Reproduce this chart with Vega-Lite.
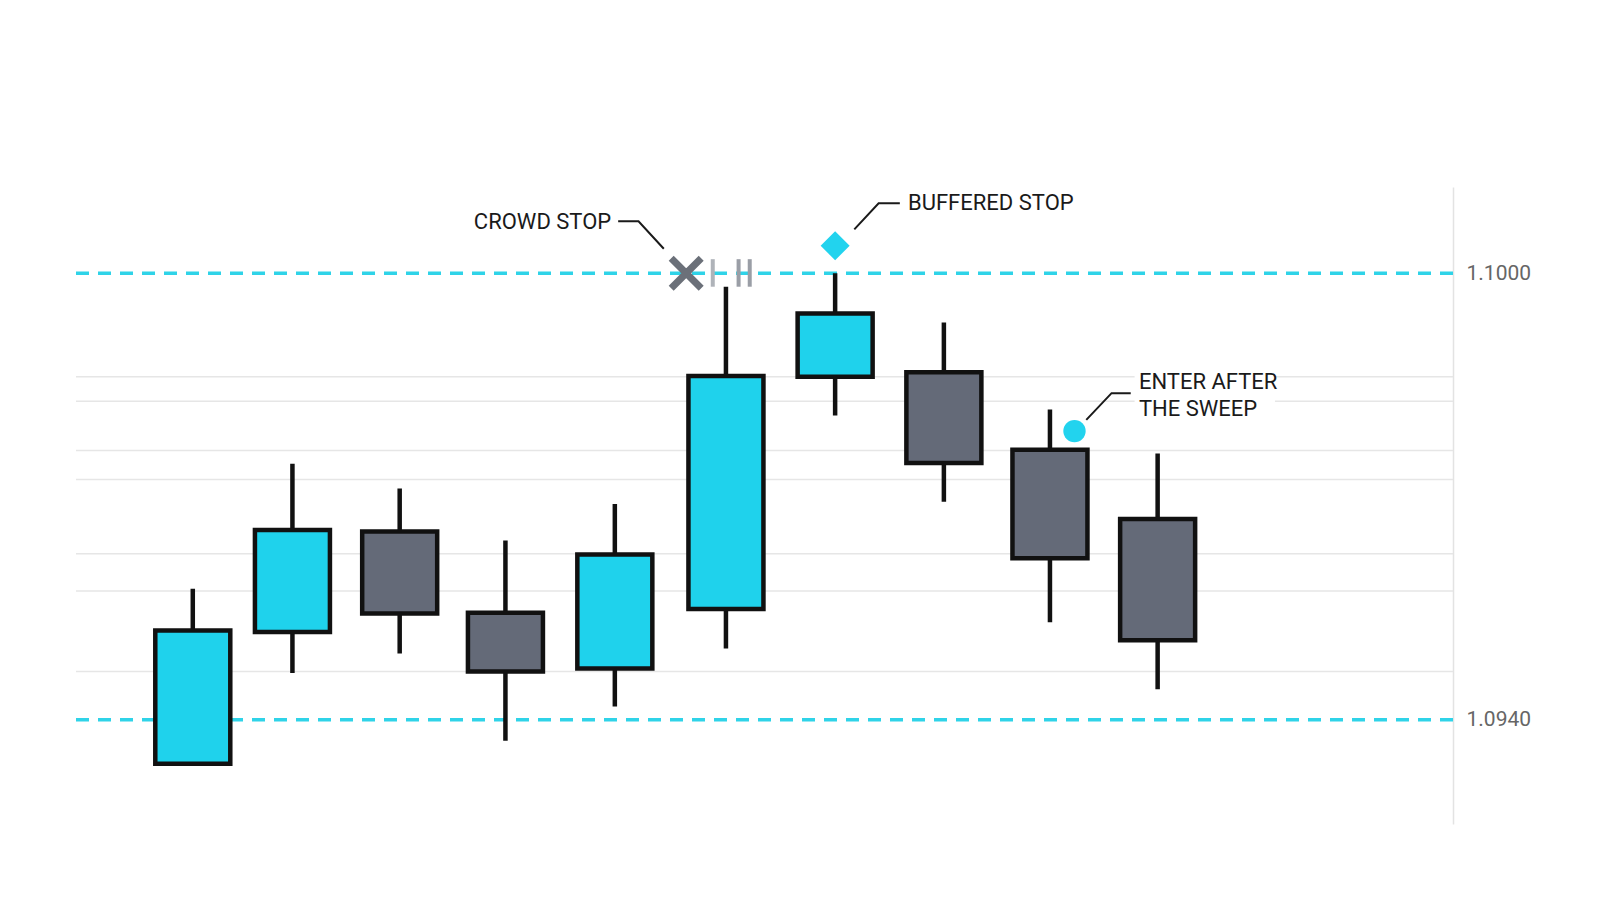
{
  "$schema": "https://vega.github.io/schema/vega-lite/v6.json",
  "width": 1377,
  "height": 637,
  "autosize": "none",
  "padding": {"left": 76, "top": 187, "right": 147, "bottom": 76},
  "background": "white",
  "config": {
    "view": {"stroke": null},
    "text": {"font": "Roboto"},
    "axis": {"labelFont": "Roboto"}
  },
  "datasets": {
    "candles": [
      {"x": 1.000, "o": 1.09341, "c": 1.09520, "h": 1.09576, "l": 1.09341, "dir": "up"},
      {"x": 1.930, "o": 1.09518, "c": 1.09655, "h": 1.09744, "l": 1.09463, "dir": "up"},
      {"x": 2.931, "o": 1.09653, "c": 1.09543, "h": 1.09711, "l": 1.09489, "dir": "down"},
      {"x": 3.918, "o": 1.09544, "c": 1.09465, "h": 1.09641, "l": 1.09372, "dir": "down"},
      {"x": 4.939, "o": 1.09469, "c": 1.09622, "h": 1.09690, "l": 1.09418, "dir": "up"},
      {"x": 5.976, "o": 1.09549, "c": 1.09862, "h": 1.09982, "l": 1.09496, "dir": "up"},
      {"x": 6.995, "o": 1.09861, "c": 1.09946, "h": 1.10000, "l": 1.09809, "dir": "up"},
      {"x": 8.010, "o": 1.09867, "c": 1.09745, "h": 1.09934, "l": 1.09693, "dir": "down"},
      {"x": 9.000, "o": 1.09763, "c": 1.09617, "h": 1.09817, "l": 1.09531, "dir": "down"},
      {"x": 10.005, "o": 1.09670, "c": 1.09507, "h": 1.09758, "l": 1.09441, "dir": "down"}
    ],
    "grid": [
      {"p": 1.09861}, {"p": 1.09828}, {"p": 1.09762}, {"p": 1.09723},
      {"p": 1.09623}, {"p": 1.09573}, {"p": 1.09465}
    ],
    "levels": [{"p": 1.1000}, {"p": 1.0940}],
    "ticks": [
      {"x": 5.853, "p1": 1.09982, "p2": 1.10019, "shade": "light"},
      {"x": 6.094, "p1": 1.09982, "p2": 1.10019, "shade": "dark"},
      {"x": 6.198, "p1": 1.09982, "p2": 1.10019, "shade": "dark"}
    ],
    "leaders": [
      {"g": "crowd", "k": 1, "x": 4.970, "p": 1.10070},
      {"g": "crowd", "k": 2, "x": 5.160, "p": 1.10070},
      {"g": "crowd", "k": 3, "x": 5.396, "p": 1.10033},
      {"g": "buffer", "k": 1, "x": 7.174, "p": 1.10059},
      {"g": "buffer", "k": 2, "x": 7.401, "p": 1.10094},
      {"g": "buffer", "k": 3, "x": 7.599, "p": 1.10094},
      {"g": "enter", "k": 1, "x": 9.339, "p": 1.09803},
      {"g": "enter", "k": 2, "x": 9.575, "p": 1.09839},
      {"g": "enter", "k": 3, "x": 9.754, "p": 1.09839}
    ],
    "labelsLeft": [
      {"x": 7.675, "p": 1.10094, "t": "BUFFERED STOP"},
      {"x": 9.830, "p": 1.09854, "t": "ENTER AFTER"},
      {"x": 9.830, "p": 1.09818, "t": "THE SWEEP"}
    ],
    "labelsRight": [
      {"x": 4.905, "p": 1.10069, "t": "CROWD STOP"}
    ]
  },
  "layer": [
    {
      "data": {"name": "grid"},
      "mark": {"type": "rule", "color": "#e6e6e6", "strokeWidth": 1.5},
      "encoding": {
        "y": {"field": "p", "type": "quantitative", "title": null, "scale": {"domain": [1.0926, 1.10116], "nice": false, "zero": false},
          "axis": {"orient": "right", "values": [1.094, 1.1], "format": ".4f", "title": null, "ticks": false, "grid": false,
            "labelFontSize": 21, "labelColor": "#666666", "labelPadding": 13, "domainColor": "#e3e3e3", "domainWidth": 1.5}}
      }
    },
    {
      "data": {"values": [{"x1": 9.79, "x2": 11.1, "p1": 1.09809, "p2": 1.09872}]},
      "mark": {"type": "rect", "fill": "white"},
      "encoding": {
        "x": {"field": "x1", "type": "quantitative", "scale": {"domain": [-0.0433, 12.715], "nice": false, "zero": false}, "axis": null},
        "x2": {"field": "x2"},
        "y": {"field": "p1", "type": "quantitative", "title": null, "scale": {"domain": [1.0926, 1.10116], "nice": false, "zero": false}},
        "y2": {"field": "p2"}
      }
    },
    {
      "data": {"name": "levels"},
      "mark": {"type": "rule", "color": "#2fd3e8", "strokeWidth": 3.5, "strokeDash": [13, 9]},
      "encoding": {
        "y": {"field": "p", "type": "quantitative", "title": null, "scale": {"domain": [1.0926, 1.10116], "nice": false, "zero": false}}
      }
    },
    {
      "data": {"name": "candles"},
      "mark": {"type": "rule", "color": "#111111", "strokeWidth": 4.5},
      "encoding": {
        "x": {"field": "x", "type": "quantitative", "scale": {"domain": [-0.0433, 12.715], "nice": false, "zero": false}, "axis": null},
        "y": {"field": "l", "type": "quantitative", "title": null, "scale": {"domain": [1.0926, 1.10116], "nice": false, "zero": false}},
        "y2": {"field": "h"}
      }
    },
    {
      "data": {"name": "candles"},
      "mark": {"type": "bar", "width": 75, "stroke": "#111111", "strokeWidth": 4.5},
      "encoding": {
        "x": {"field": "x", "type": "quantitative", "scale": {"domain": [-0.0433, 12.715], "nice": false, "zero": false}, "axis": null},
        "y": {"field": "o", "type": "quantitative", "title": null, "scale": {"domain": [1.0926, 1.10116], "nice": false, "zero": false}},
        "y2": {"field": "c"},
        "fill": {"field": "dir", "type": "nominal", "scale": {"domain": ["up", "down"], "range": ["#1fd2ec", "#646a78"]}, "legend": null}
      }
    },
    {
      "data": {"name": "ticks"},
      "mark": {"type": "rule", "strokeWidth": 4},
      "encoding": {
        "x": {"field": "x", "type": "quantitative", "scale": {"domain": [-0.0433, 12.715], "nice": false, "zero": false}, "axis": null},
        "y": {"field": "p1", "type": "quantitative", "title": null, "scale": {"domain": [1.0926, 1.10116], "nice": false, "zero": false}},
        "y2": {"field": "p2"},
        "color": {"field": "shade", "type": "nominal", "scale": {"domain": ["light", "dark"], "range": ["#afb3b9", "#9a9ea6"]}, "legend": null}
      }
    },
    {
      "data": {"values": [{"x": 5.605, "p": 1.1000}]},
      "mark": {"type": "point", "shape": "M-1,-1L1,1M1,-1L-1,1", "size": 900, "filled": false, "stroke": "#6b7079", "strokeWidth": 7, "opacity": 1},
      "encoding": {
        "x": {"field": "x", "type": "quantitative", "scale": {"domain": [-0.0433, 12.715], "nice": false, "zero": false}, "axis": null},
        "y": {"field": "p", "type": "quantitative", "title": null, "scale": {"domain": [1.0926, 1.10116], "nice": false, "zero": false}}
      }
    },
    {
      "data": {"values": [{"x": 6.995, "p": 1.10037, "s": "diamond"}, {"x": 9.229, "p": 1.09788, "s": "circle"}]},
      "mark": {"type": "point", "filled": true, "fill": "#22d3ee", "opacity": 1},
      "encoding": {
        "x": {"field": "x", "type": "quantitative", "scale": {"domain": [-0.0433, 12.715], "nice": false, "zero": false}, "axis": null},
        "y": {"field": "p", "type": "quantitative", "title": null, "scale": {"domain": [1.0926, 1.10116], "nice": false, "zero": false}},
        "shape": {"field": "s", "type": "nominal", "scale": {"domain": ["diamond", "circle"], "range": ["diamond", "circle"]}, "legend": null},
        "size": {"field": "s", "type": "nominal", "scale": {"domain": ["diamond", "circle"], "range": [840, 500]}, "legend": null}
      }
    },
    {
      "data": {"name": "leaders"},
      "mark": {"type": "line", "color": "#1a1a1a", "strokeWidth": 2},
      "encoding": {
        "x": {"field": "x", "type": "quantitative", "scale": {"domain": [-0.0433, 12.715], "nice": false, "zero": false}, "axis": null},
        "y": {"field": "p", "type": "quantitative", "title": null, "scale": {"domain": [1.0926, 1.10116], "nice": false, "zero": false}},
        "detail": {"field": "g", "type": "nominal"},
        "order": {"field": "k", "type": "quantitative"}
      }
    },
    {
      "data": {"name": "labelsLeft"},
      "mark": {"type": "text", "fontSize": 22, "color": "#1a1a1a", "baseline": "middle", "align": "left"},
      "encoding": {
        "x": {"field": "x", "type": "quantitative", "scale": {"domain": [-0.0433, 12.715], "nice": false, "zero": false}, "axis": null},
        "y": {"field": "p", "type": "quantitative", "title": null, "scale": {"domain": [1.0926, 1.10116], "nice": false, "zero": false}},
        "text": {"field": "t"}
      }
    },
    {
      "data": {"name": "labelsRight"},
      "mark": {"type": "text", "fontSize": 22, "color": "#1a1a1a", "baseline": "middle", "align": "right"},
      "encoding": {
        "x": {"field": "x", "type": "quantitative", "scale": {"domain": [-0.0433, 12.715], "nice": false, "zero": false}, "axis": null},
        "y": {"field": "p", "type": "quantitative", "title": null, "scale": {"domain": [1.0926, 1.10116], "nice": false, "zero": false}},
        "text": {"field": "t"}
      }
    }
  ]
}
